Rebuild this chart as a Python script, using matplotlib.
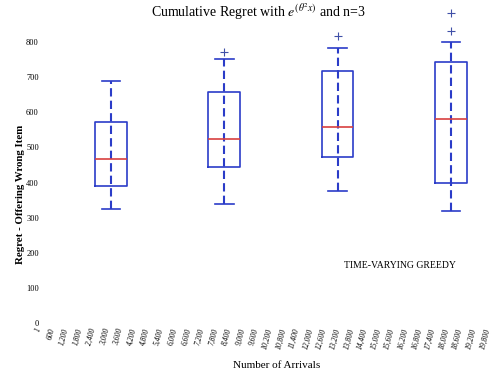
import matplotlib.pyplot as plt

# dados
chegadas = [3000, 8000, 13000, 18000]
bigode_inf = [325, 338, 376, 320]
quartil1 = [391, 445, 474, 400]
mediana = [467, 524, 559, 581]
quartil3 = [573, 657, 718, 744]
bigode_sup = [690, 752, 782, 801]
outliers = [[], [772], [816], [833, 882]]

rotulos_x = ['1'] + [f"{v:,}" for v in range(600, 20000, 600)]
posicoes_x = [1] + list(range(600, 20000, 600))

plt.rcParams['font.family'] = ['Liberation Serif', 'DejaVu Serif']
plt.rcParams['mathtext.fontset'] = 'stix'

azul = '#2b3cc8'
vermelho = '#d84040'

fig = plt.figure(figsize=(4.98, 3.72), dpi=100)
ax = fig.add_axes([43 / 498, 49 / 372, (495 - 43) / 498, (365 - 49) / 372])

stats = []
for i in range(len(chegadas)):
    stats.append({
        'whislo': bigode_inf[i], 'q1': quartil1[i], 'med': mediana[i],
        'q3': quartil3[i], 'whishi': bigode_sup[i], 'fliers': outliers[i],
    })

ax.bxp(stats, positions=chegadas, widths=1400, capwidths=820,
       boxprops=dict(color=azul, linewidth=1.2),
       medianprops=dict(color=vermelho, linewidth=1.2, zorder=4),
       whiskerprops=dict(color=azul, linewidth=0),
       capprops=dict(color=azul, linewidth=1.2),
       flierprops=dict(marker='+', markeredgecolor='#4050a8', markersize=6,
                       markeredgewidth=0.8))

# linha tracejada atravessa a caixa inteira, de bigode a bigode
ax.vlines(chegadas, bigode_inf, bigode_sup, colors=azul, linewidth=1.5,
          linestyles=(0, (4, 2)), zorder=3)

ax.set_xlim(0, 19950)
ax.set_ylim(0, 900)
ax.set_yticks(range(0, 900, 100))
ax.set_xticks(posicoes_x)
ax.set_xticklabels(rotulos_x, rotation=75, ha='right', fontsize=5.5,
                   fontstyle='italic')
ax.tick_params(axis='y', labelsize=6, length=0, pad=3)
ax.tick_params(axis='x', length=0, pad=3)
for lado in ax.spines.values():
    lado.set_visible(False)

ax.text(15750, 165, 'TIME-VARYING GREEDY', fontsize=7, ha='center', va='center')

fig.text(258 / 498, 1 - 12 / 372, r'Cumulative Regret with $e^{(\theta^2 x)}$ and n=3',
         ha='center', va='center', fontsize=10)
fig.text(277 / 498, 1 - 366 / 372, 'Number of Arrivals', ha='center', va='center',
         fontsize=8)
fig.text(21 / 498, 1 - 194 / 372, 'Regret - Offering Wrong Item', rotation=90,
         ha='center', va='center', fontsize=7.8, fontweight='bold')

fig.savefig('out.png', dpi=100)
